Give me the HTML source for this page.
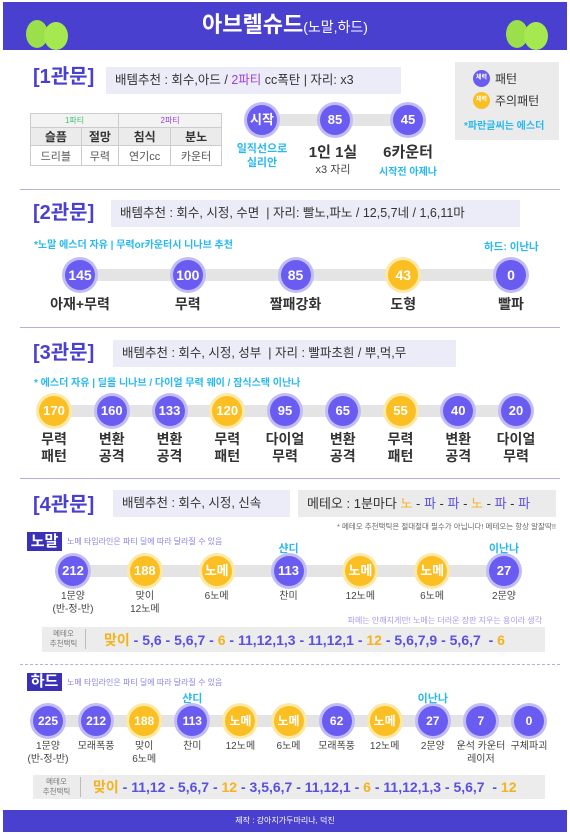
<!DOCTYPE html>
<html><head><meta charset="utf-8">
<style>
*{box-sizing:border-box;margin:0;padding:0}
body{width:570px;height:836px;background:#fff;position:relative;overflow:hidden;font-family:"Liberation Sans","Noto Sans CJK KR",sans-serif;color:#333}
.a{position:absolute}
.hdr{left:3px;top:2px;width:564px;height:48px;background:#4a40cf}
.title{left:0;width:570px;top:12px;text-align:center;color:#fff;font-size:22px;font-weight:bold;line-height:26px}
.title small{font-size:14px;font-weight:normal}
.sec{font-size:20px;font-weight:bold;color:#4a40cf;line-height:24px}
.box{background:#ececf8;font-size:12.5px;color:#333;padding:0 9px;line-height:27px;height:27px;white-space:nowrap}
.div{height:1px;background:#b3afe2}
.cy{color:#27b9f0;font-weight:bold}
.lab{font-size:14px;font-weight:bold;text-align:center;line-height:17px;color:#333}
.sl{font-size:10px;text-align:center;line-height:13px;color:#444}
.track{background:#e4e4e4;height:12px}
.circ{border-radius:50%;color:#fff;font-weight:bold;text-align:center}
table{border-collapse:collapse;font-size:11px}
td{border:1px solid #ccc;text-align:center}
.mt{background:#ececec;font-size:14px;font-weight:bold;color:#5a50e0}
.y{color:#f5b21c}
</style></head><body>
<div class="a hdr"></div>
<div class="a title">아브렐슈드<small>(노말,하드)</small></div>
<div class="a" style="left:26px;top:20px;width:22px;height:28px;background:#9be04a;border-radius:50%"></div>
<div class="a" style="left:44px;top:22px;width:24px;height:28px;background:#a6e850;border-radius:50%"></div>
<div class="a" style="left:506px;top:20px;width:22px;height:28px;background:#9be04a;border-radius:50%"></div>
<div class="a" style="left:524px;top:22px;width:24px;height:28px;background:#a6e850;border-radius:50%"></div>

<!-- Section 1 -->
<div class="a sec" style="left:33px;top:65px">[1관문]</div>
<div class="a box" style="left:106px;top:67px;width:295px">배템추천 : 회수,아드 / <span style="color:#9b3ee0">2파티</span> cc폭탄 | 자리: x3</div>
<div class="a" style="left:455px;top:62px;width:104px;height:78px;background:#ebebeb">
 <div class="a circ" style="left:18px;top:8px;width:17px;height:17px;background:#6a5cf0;font-size:6px;line-height:17px">체력</div>
 <div class="a" style="left:40px;top:8px;font-size:12px">패턴</div>
 <div class="a circ" style="left:18px;top:30px;width:17px;height:17px;background:#fbbf24;font-size:6px;line-height:17px">체력</div>
 <div class="a" style="left:40px;top:30px;font-size:12px">주의패턴</div>
 <div class="a cy" style="left:9px;top:55px;font-size:10px">*파란글씨는 에스더</div>
</div>
<table class="a" style="left:30px;top:113px;width:192px">
<tr style="height:14px;background:#f3f3f3"><td colspan="2" style="color:#3cc46a;font-size:8px">1파티</td><td colspan="2" style="color:#9b3ee0;font-size:8px">2파티</td></tr>
<tr style="height:18px;background:#ebebeb;font-weight:bold;font-size:12px"><td>슬픔</td><td>절망</td><td>침식</td><td>분노</td></tr>
<tr style="height:20px;color:#555"><td>드리블</td><td>무력</td><td>연기cc</td><td>카운터</td></tr>
</table>
<div class="a cy" style="left:227px;top:142px;width:70px;text-align:center;font-size:11px;line-height:14px">일직선으로<br>실리안</div>
<div class="a lab" style="left:293px;top:143px;width:80px;font-size:15px;line-height:19px">1인 1실</div>
<div class="a sl" style="left:293px;top:164px;width:80px;font-size:11px">x3 자리</div>
<div class="a lab" style="left:368px;top:143px;width:80px;font-size:15px;line-height:19px">6카운터</div>
<div class="a cy" style="left:368px;top:163px;width:80px;text-align:center;font-size:10px">시작전 아제나</div>
<div class="a div" style="left:20px;top:189px;width:540px"></div>

<!-- Section 2 -->
<div class="a sec" style="left:33px;top:201px">[2관문]</div>
<div class="a box" style="left:111px;top:200px;width:409px">배템추천 : 회수, 시정, 수면 &nbsp;| 자리: 빨노,파노 / 12,5,7네 / 1,6,11마</div>
<div class="a cy" style="left:34px;top:236px;font-size:10px">*노말 에스더 자유 | 무력or카운터시 니나브 추천</div>
<div class="a cy" style="left:484px;top:239px;font-size:10.5px">하드: 이난나</div>
<div class="a div" style="left:20px;top:327px;width:540px"></div>

<!-- Section 3 -->
<div class="a sec" style="left:33px;top:341px">[3관문]</div>
<div class="a box" style="left:113px;top:340px;width:343px">배템추천 : 회수, 시정, 성부 &nbsp;| 자리 : 빨파초흰 / 뿌,먹,무</div>
<div class="a cy" style="left:34px;top:374px;font-size:10px">* 에스더 자유 | 딜몰 니나브 / 다이얼 무력 웨이 / 잠식스택 이난나</div>
<div class="a div" style="left:20px;top:478px;width:540px"></div>

<!-- Section 4 -->
<div class="a sec" style="left:33px;top:493px">[4관문]</div>
<div class="a box" style="left:113px;top:490px;width:177px">배템추천 : 회수, 시정, 신속</div>
<div class="a box" style="left:298px;top:490px;width:258px;background:#ebebeb;font-size:13px">메테오 : 1분마다 <span class="y">노</span> - <span style="color:#5a50e0">파</span> - <span style="color:#5a50e0">파</span> - <span class="y">노</span> - <span style="color:#5a50e0">파</span> - <span style="color:#5a50e0">파</span></div>
<div class="a" style="right:14px;top:521px;font-size:7.5px;color:#666">* 메테오 추천택틱은 절대절대 필수가 아닙니다! 메테오는 항상 알잘딱!!</div>
<div class="a" style="left:27px;top:532px;width:35px;height:19px;background:#3a30b8;color:#fff;font-weight:bold;font-size:15px;text-align:center;line-height:19px">노말</div>
<div class="a" style="left:67px;top:536px;font-size:8px;color:#8a80e8">노메 타임라인은 파티 딜에 따라 달라질 수 있음</div>
<div class="a" style="right:28px;top:615px;font-size:8px;color:#a59cf0">파메는 안깨지게만! 노메는 더러운 장판 지우는 용이라 생각</div>
<div class="a mt" style="left:42px;top:627px;width:503px;height:25px">
 <div class="a" style="left:0;top:2px;width:44px;font-size:7.5px;font-weight:normal;color:#777;text-align:center;line-height:10px;border-right:1px solid #bbb">메테오<br>추천택틱</div>
 <div class="a" style="left:62px;top:3px;white-space:nowrap"><span class="y">맞이</span> - 5,6 - 5,6,7 - <span class="y">6</span> - 11,12,1,3 - 11,12,1 - <span class="y">12</span> - 5,6,7,9 - 5,6,7 &nbsp;- <span class="y">6</span></div>
</div>
<div class="a" style="left:20px;top:664px;width:540px;border-top:1.5px dashed #b3afe2"></div>
<div class="a" style="left:27px;top:673px;width:35px;height:18px;background:#3a30b8;color:#fff;font-weight:bold;font-size:15px;text-align:center;line-height:18px">하드</div>
<div class="a" style="left:67px;top:677px;font-size:8px;color:#8a80e8">노메 타임라인은 파티 딜에 따라 달라질 수 있음</div>
<div class="a mt" style="left:33px;top:775px;width:512px;height:24px">
 <div class="a" style="left:0;top:2px;width:48px;font-size:7.5px;font-weight:normal;color:#777;text-align:center;line-height:10px;border-right:1px solid #bbb">메테오<br>추천택틱</div>
 <div class="a" style="left:60px;top:2px;white-space:nowrap"><span class="y">맞이</span> - 11,12 - 5,6,7 - <span class="y">12</span> - 3,5,6,7 - 11,12,1 - <span class="y">6</span> - 11,12,1,3 - 5,6,7 &nbsp;- <span class="y">12</span></div>
</div>
<div class="a" style="left:3px;top:810px;width:564px;height:22px;background:#4a40cf;color:#fff;font-size:8px;text-align:center;line-height:22px">제작 : 강아지가두마리나, 덕진</div>

<div id="tl"></div>
<script>
// Stage 1
const s1Values = ["시작", "85", "45"];
const s1Colors = ["p", "p", "p"];
// Stage 2
const s2Values = ["145", "100", "85", "43", "0"];
const s2Colors = ["p", "p", "p", "y", "p"];
const s2Labels = ["아재+무력", "무력", "짤패강화", "도형", "빨파"];
// Stage 3
const s3Values = ["170", "160", "133", "120", "95", "65", "55", "40", "20"];
const s3Colors = ["y", "p", "p", "y", "p", "p", "y", "p", "p"];
const s3Labels = ["무력\n패턴", "변환\n공격", "변환\n공격", "무력\n패턴", "다이얼\n무력", "변환\n공격", "무력\n패턴", "변환\n공격", "다이얼\n무력"];
// Stage 4 normal
const nValues = ["212", "188", "노메", "113", "노메", "노메", "27"];
const nColors = ["p", "y", "y", "p", "y", "y", "p"];
const nLabels = ["1문양\n(반-정-반)", "맞이\n12노메", "6노메", "찬미", "12노메", "6노메", "2문양"];
const nTop = ["", "", "", "샨디", "", "", "이난나"];
// Stage 4 hard
const hValues = ["225", "212", "188", "113", "노메", "노메", "62", "노메", "27", "7", "0"];
const hColors = ["p", "p", "y", "p", "y", "y", "p", "y", "p", "p", "p"];
const hLabels = ["1문양\n(반-정-반)", "모래폭풍", "맞이\n6노메", "찬미", "12노메", "6노메", "모래폭풍", "12노메", "2문양", "운석 카운터\n레이저", "구체파괴"];
const hTop = ["", "", "", "샨디", "", "", "", "", "이난나", "", ""];

const root = document.getElementById('tl');
function mk(cls, css, txt) {
  const d = document.createElement('div');
  d.className = 'a ' + cls;
  d.style.cssText = css;
  if (txt !== undefined) d.innerText = txt;
  root.appendChild(d);
  return d;
}
function timeline(name, values, colors, labels, tops, x0, x1, cy, r, fs, labY, labCls, labW, topY) {
  const n = values.length;
  const xAt = i => n === 1 ? x0 : x0 + (x1 - x0) * i / (n - 1);
  const tr = mk('track', `left:${x0}px;top:${cy - 6}px;width:${x1 - x0}px`);
  
  
  for (let i = 0; i < n; i++) {
    const x = xAt(i);
    const c = colors[i] === 'y';
    const ring = mk('circ', `left:${x - r - 3}px;top:${cy - r - 3}px;width:${2 * r + 6}px;height:${2 * r + 6}px;background:${c ? '#fde9a6' : '#c2bcf6'}`);
    
    
    const d = mk('circ', `left:${x - r}px;top:${cy - r}px;width:${2 * r}px;height:${2 * r}px;line-height:${2 * r}px;font-size:${fs}px;background:${c ? '#fbbf24' : '#6a5cf0'}`, values[i]);
    
    
    if (labels) {
      const l = mk(labCls, `left:${x - labW / 2}px;top:${labY}px;width:${labW}px`, labels[i]);
      
      
    }
    if (tops && tops[i]) {
      const t = mk('cy', `left:${x - 30}px;top:${topY}px;width:60px;text-align:center;font-size:11px`, tops[i]);
      
      
    }
  }
}
timeline('stage1', s1Values, s1Colors, null, null, 262, 408, 120, 15, 13, 0, '', 0, 0);
timeline('stage2', s2Values, s2Colors, s2Labels, null, 80, 511, 275, 15, 14, 296, 'lab', 100, 0);
timeline('stage3', s3Values, s3Colors, s3Labels, null, 54, 516, 411, 15, 13, 431, 'lab', 60, 0);
timeline('normal', nValues, nColors, nLabels, nTop, 73, 504, 571, 15, 13, 590, 'sl', 70, 540);
timeline('hard', hValues, hColors, hLabels, hTop, 48, 529, 721, 15, 12, 740, 'sl', 60, 690);
</script>
</body></html>
